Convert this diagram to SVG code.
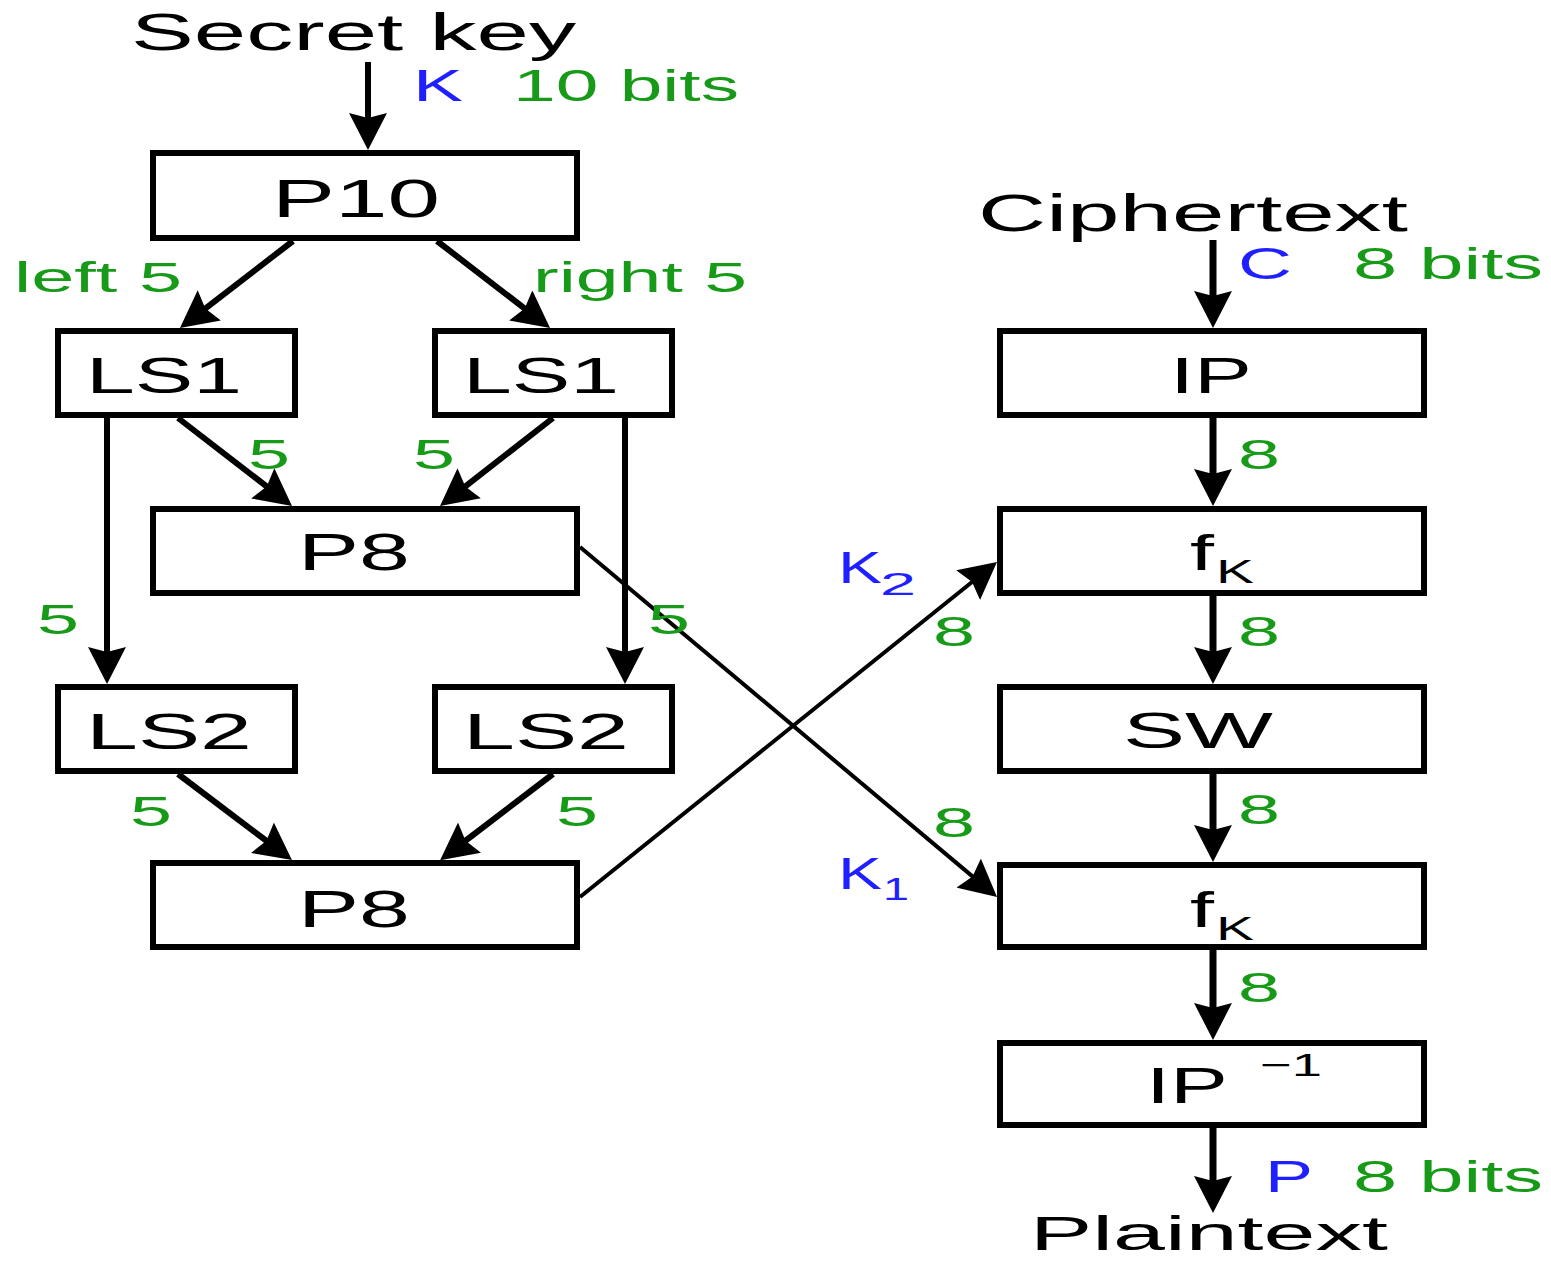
<svg xmlns="http://www.w3.org/2000/svg" width="1551" height="1261" viewBox="0 0 1551 1261">
<style>
  .box { fill: #ffffff; stroke: #000000; stroke-width: 6; }
  .t { font-family: "Liberation Sans", Arial, sans-serif; fill: #000000; }
  .g { font-family: "Liberation Sans", Arial, sans-serif; fill: #179a17; }
  .b { font-family: "Liberation Sans", Arial, sans-serif; fill: #1f1fff; }
  .ln { fill: none; stroke: #000000; stroke-width: 6; marker-end: url(#ah); }
  .lnr { fill: none; stroke: #000000; stroke-width: 7; marker-end: url(#ah); }
  .lnk { fill: none; stroke: #000000; stroke-width: 4; marker-end: url(#ah); }
</style>
<defs>
  <marker id="ah" markerUnits="userSpaceOnUse" viewBox="0 0 37 38" markerWidth="37" markerHeight="38" refX="17" refY="19" orient="auto">
    <path d="M0,0 L37,19 L0,38 L5,19 z" fill="#000000"/>
  </marker>
</defs>
<rect width="1551" height="1261" fill="#ffffff"/>

<g id="connectors">
  <line class="ln" x1="368" y1="62" x2="368" y2="130"/>
  <line class="ln" x1="293" y1="241" x2="195.8" y2="315.8"/>
  <line class="ln" x1="437" y1="241" x2="534.2" y2="315.8"/>
  <line class="ln" x1="178" y1="418" x2="276.2" y2="493.8"/>
  <line class="ln" x1="553" y1="418" x2="455.8" y2="493.8"/>
  <line class="ln" x1="107" y1="418" x2="107" y2="664"/>
  <line class="ln" x1="625" y1="418" x2="625" y2="664"/>
  <line class="ln" x1="178" y1="774" x2="276" y2="848"/>
  <line class="ln" x1="553" y1="774" x2="456" y2="848"/>
  <line class="lnk" x1="580" y1="547" x2="981.7" y2="884.1"/>
  <line class="lnk" x1="580" y1="897" x2="981.4" y2="574.5"/>
  <line class="lnr" x1="1213" y1="240" x2="1213" y2="308"/>
  <line class="lnr" x1="1213" y1="418" x2="1213" y2="486"/>
  <line class="lnr" x1="1213" y1="596" x2="1213" y2="664"/>
  <line class="lnr" x1="1213" y1="774" x2="1213" y2="842"/>
  <line class="lnr" x1="1213" y1="950" x2="1213" y2="1020"/>
  <line class="lnr" x1="1213" y1="1128" x2="1213" y2="1193"/>
</g>

<g id="n-secretkey">
  <text class="t" x="131" y="50" font-size="52" textLength="445" lengthAdjust="spacingAndGlyphs">Secret key</text>
  <text class="b" x="413" y="101" font-size="44" textLength="50" lengthAdjust="spacingAndGlyphs">K</text>
  <text class="g" x="513" y="101" font-size="44" textLength="226" lengthAdjust="spacingAndGlyphs">10 bits</text>
</g>
<g id="n-p10">
  <rect class="box" x="153" y="153" width="424" height="85"/>
  <text class="t" x="272" y="217" font-size="54" textLength="168" lengthAdjust="spacingAndGlyphs">P10</text>
</g>
<g id="lbl-split">
  <text class="g" x="14" y="292" font-size="42" textLength="168" lengthAdjust="spacingAndGlyphs">left 5</text>
  <text class="g" x="533" y="292" font-size="42" textLength="214" lengthAdjust="spacingAndGlyphs">right 5</text>
</g>
<g id="n-ls1-left">
  <rect class="box" x="58" y="331" width="237" height="84"/>
  <text class="t" x="86" y="393" font-size="50" textLength="156" lengthAdjust="spacingAndGlyphs">LS1</text>
</g>
<g id="n-ls1-right">
  <rect class="box" x="435" y="331" width="237" height="84"/>
  <text class="t" x="463" y="393" font-size="50" textLength="156" lengthAdjust="spacingAndGlyphs">LS1</text>
</g>
<g id="lbl-5s">
  <text class="g" x="248" y="469" font-size="43" textLength="42" lengthAdjust="spacingAndGlyphs">5</text>
  <text class="g" x="413" y="469" font-size="43" textLength="42" lengthAdjust="spacingAndGlyphs">5</text>
  <text class="g" x="37" y="634" font-size="43" textLength="42" lengthAdjust="spacingAndGlyphs">5</text>
  <text class="g" x="648" y="634" font-size="43" textLength="42" lengthAdjust="spacingAndGlyphs">5</text>
  <text class="g" x="130" y="826" font-size="43" textLength="42" lengthAdjust="spacingAndGlyphs">5</text>
  <text class="g" x="556" y="826" font-size="43" textLength="42" lengthAdjust="spacingAndGlyphs">5</text>
</g>
<g id="n-p8-top">
  <rect class="box" x="153" y="509" width="424" height="84"/>
  <text class="t" x="298" y="570" font-size="52" textLength="112" lengthAdjust="spacingAndGlyphs">P8</text>
</g>
<g id="n-ls2-left">
  <rect class="box" x="58" y="687" width="237" height="84"/>
  <text class="t" x="86" y="749" font-size="50" textLength="166" lengthAdjust="spacingAndGlyphs">LS2</text>
</g>
<g id="n-ls2-right">
  <rect class="box" x="435" y="687" width="237" height="84"/>
  <text class="t" x="463" y="749" font-size="50" textLength="166" lengthAdjust="spacingAndGlyphs">LS2</text>
</g>
<g id="n-p8-bottom">
  <rect class="box" x="153" y="863" width="424" height="84"/>
  <text class="t" x="298" y="927" font-size="52" textLength="112" lengthAdjust="spacingAndGlyphs">P8</text>
</g>

<g id="n-ciphertext">
  <text class="t" x="978" y="231" font-size="52" textLength="430" lengthAdjust="spacingAndGlyphs">Ciphertext</text>
  <text class="b" x="1238" y="279" font-size="44" textLength="54" lengthAdjust="spacingAndGlyphs">C</text>
  <text class="g" x="1353" y="279" font-size="44" textLength="190" lengthAdjust="spacingAndGlyphs">8 bits</text>
</g>
<g id="n-ip">
  <rect class="box" x="1000" y="331" width="424" height="84"/>
  <text class="t" x="1170" y="393" font-size="50" textLength="82" lengthAdjust="spacingAndGlyphs">IP</text>
</g>
<g id="n-fk-top">
  <rect class="box" x="1000" y="509" width="424" height="84"/>
  <text class="t" x="1190" y="570" font-size="50" textLength="24" lengthAdjust="spacingAndGlyphs">f</text>
  <text class="t" x="1216" y="583" font-size="34" textLength="38" lengthAdjust="spacingAndGlyphs">K</text>
</g>
<g id="n-sw">
  <rect class="box" x="1000" y="687" width="424" height="84"/>
  <text class="t" x="1123" y="748" font-size="50" textLength="150" lengthAdjust="spacingAndGlyphs">SW</text>
</g>
<g id="n-fk-bottom">
  <rect class="box" x="1000" y="865" width="424" height="82"/>
  <text class="t" x="1190" y="927" font-size="50" textLength="24" lengthAdjust="spacingAndGlyphs">f</text>
  <text class="t" x="1216" y="940" font-size="34" textLength="38" lengthAdjust="spacingAndGlyphs">K</text>
</g>
<g id="n-ipinv">
  <rect class="box" x="1000" y="1043" width="424" height="82"/>
  <text class="t" x="1146" y="1103" font-size="50" textLength="82" lengthAdjust="spacingAndGlyphs">IP</text>
  <text class="t" x="1260" y="1076" font-size="32" textLength="62" lengthAdjust="spacingAndGlyphs">−1</text>
</g>
<g id="n-plaintext">
  <text class="b" x="1265" y="1192" font-size="44" textLength="48" lengthAdjust="spacingAndGlyphs">P</text>
  <text class="g" x="1353" y="1192" font-size="44" textLength="190" lengthAdjust="spacingAndGlyphs">8 bits</text>
  <text class="t" x="1030" y="1250" font-size="49" textLength="358" lengthAdjust="spacingAndGlyphs">Plaintext</text>
</g>

<g id="lbl-8s">
  <text class="g" x="1238" y="469" font-size="43" textLength="42" lengthAdjust="spacingAndGlyphs">8</text>
  <text class="g" x="1238" y="646" font-size="43" textLength="42" lengthAdjust="spacingAndGlyphs">8</text>
  <text class="g" x="1238" y="824" font-size="43" textLength="42" lengthAdjust="spacingAndGlyphs">8</text>
  <text class="g" x="1238" y="1002" font-size="43" textLength="42" lengthAdjust="spacingAndGlyphs">8</text>
  <text class="g" x="933" y="646" font-size="43" textLength="42" lengthAdjust="spacingAndGlyphs">8</text>
  <text class="g" x="933" y="837" font-size="43" textLength="42" lengthAdjust="spacingAndGlyphs">8</text>
</g>
<g id="lbl-keys">
  <text class="b" x="838" y="583" font-size="44" textLength="44" lengthAdjust="spacingAndGlyphs">K</text>
  <text class="b" x="880" y="595" font-size="32" textLength="36" lengthAdjust="spacingAndGlyphs">2</text>
  <text class="b" x="838" y="889" font-size="44" textLength="44" lengthAdjust="spacingAndGlyphs">K</text>
  <text class="b" x="883" y="900" font-size="32" textLength="26" lengthAdjust="spacingAndGlyphs">1</text>
</g>
</svg>
